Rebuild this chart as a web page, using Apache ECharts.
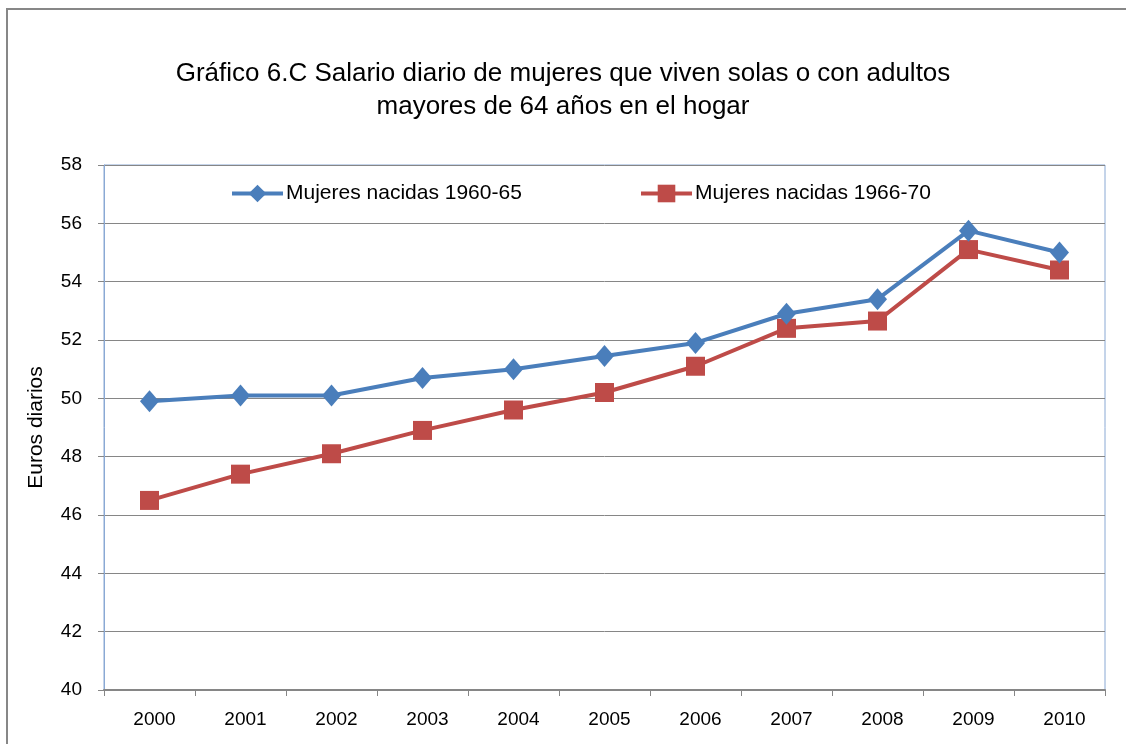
<!DOCTYPE html>
<html><head><meta charset="utf-8">
<script src="https://cdn.jsdelivr.net/npm/echarts@6/dist/echarts.min.js"></script>
<style>html,body{margin:0;padding:0;background:#fff}#c{width:1126px;height:744px}</style>
</head><body><div id="c"></div>
<script>
const years = ['2000','2001','2002','2003','2004','2005','2006','2007','2008','2009','2010'];
const serie1960 = [49.9, 50.1, 50.1, 50.7, 51.0, 51.45, 51.9, 52.9, 53.4, 55.75, 55.0];
const serie1966 = [46.5, 47.4, 48.1, 48.9, 49.6, 50.2, 51.1, 52.4, 52.65, 55.1, 54.4];
const seriesNames = ['Mujeres nacidas 1960-65', 'Mujeres nacidas 1966-70'];
const titleLines = ['Gráfico 6.C Salario diario de mujeres que viven solas o con adultos', 'mayores de 64 años en el hogar'];
const yName = 'Euros diarios';

const FONT = 'Liberation Sans';
const legendText = {fontFamily: FONT, fontSize: 21, color: '#000', padding: [0,0,0,-2]};
const legendBase = {top: 183, padding: 0, itemWidth: 51, itemHeight: 22, textStyle: legendText, lineStyle: {width: 4}};
const chart = echarts.init(document.getElementById('c'), null, {renderer: 'canvas'});
chart.setOption({
  animation: false,
  backgroundColor: '#fff',
  title: {
    text: titleLines.join('\n'),
    left: 'center', top: 52,
    textStyle: {fontFamily: FONT, fontSize: 26, fontWeight: 'normal', color: '#000', lineHeight: 33}
  },
  graphic: [{
    type: 'rect', shape: {x: 7, y: 9, width: 1130, height: 760},
    style: {fill: 'none', stroke: '#878787', lineWidth: 2}, silent: true
  }],
  legend: [
    Object.assign({left: 230, data: [seriesNames[0]]}, legendBase),
    Object.assign({left: 639, data: [seriesNames[1]]}, legendBase)
  ],
  grid: {left: 104, right: 21, top: 165, bottom: 54, show: true, borderColor: '#8aa9d4', borderWidth: 1},
  xAxis: {
    type: 'category', data: years, boundaryGap: true,
    axisLine: {lineStyle: {color: '#868686', width: 2}},
    axisTick: {show: true, length: 6, lineStyle: {color: '#868686'}},
    axisLabel: {fontFamily: FONT, fontSize: 19, color: '#000', margin: 20, padding: [0,0,0,10]}
  },
  yAxis: {
    type: 'value', min: 40, max: 58, interval: 2,
    name: yName, nameLocation: 'middle', nameGap: 57,
    nameTextStyle: {fontFamily: FONT, fontSize: 21, color: '#000'},
    axisLine: {show: true, lineStyle: {color: '#8aa9d4'}},
    axisTick: {show: true, length: 6, lineStyle: {color: '#868686'}},
    axisLabel: {fontFamily: FONT, fontSize: 19, color: '#000', margin: 22},
    splitLine: {lineStyle: {color: '#868686', width: 1}}
  },
  series: [
    {name: seriesNames[0], type: 'line', data: serie1960, symbol: 'diamond', symbolSize: [19, 22],
     lineStyle: {color: '#4a7ebb', width: 4}, itemStyle: {color: '#4a7ebb'}, z: 3},
    {name: seriesNames[1], type: 'line', data: serie1966, symbol: 'rect', symbolSize: 19,
     lineStyle: {color: '#be4b48', width: 4}, itemStyle: {color: '#be4b48'}, z: 2}
  ]
});
</script></body></html>
